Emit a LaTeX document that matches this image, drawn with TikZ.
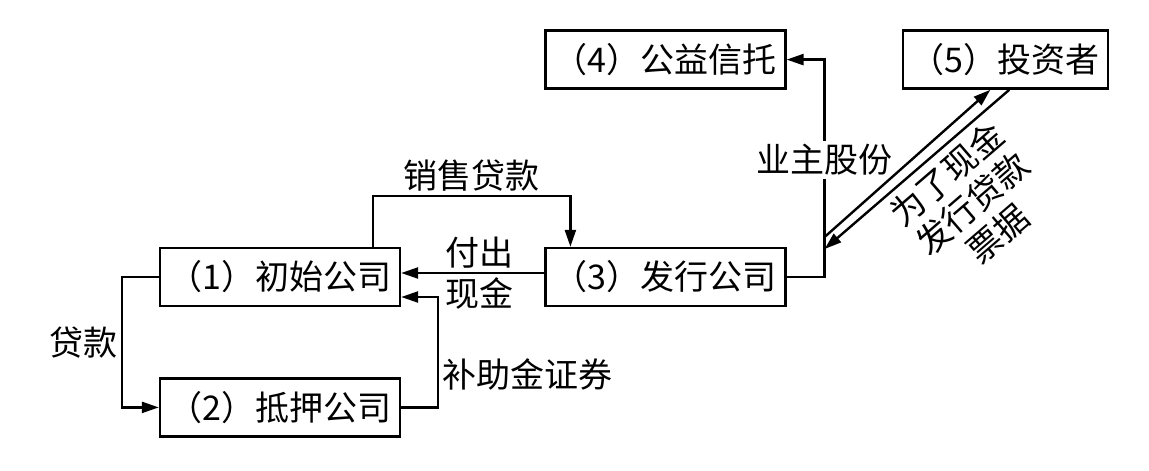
\documentclass[tikz,border=0pt]{standalone}
\usepackage{fontspec}
\newfontfamily\cjk{Noto Sans CJK SC}
\usepackage{tikz}
\usetikzlibrary{arrows.meta}
\usetikzlibrary{positioning}

\begin{document}
\begin{tikzpicture}[-{Triangle[length=17pt,width=11pt]}, node distance=70pt, line width=2.4pt, font=\cjk\fontsize{34}{37}\selectfont]
    \tikzstyle{box}=[draw, rectangle, minimum width=240pt, minimum height=58pt, inner sep=2pt]
    \useasboundingbox (0,0) rectangle (1149pt,-471pt);

    \node[box] (initial) at (280pt,-277pt) {（1）初始公司};
    \node[box] (mortgage) [below=70pt of initial] {（2）抵押公司};
    \node[box] (issuer) [right=143pt of initial] {（3）发行公司};
    \node[box] (trust) [above=157pt of issuer] {（4）公益信托};
    \node[box, minimum width=205pt] (investor) [right=115pt of trust] {（5）投资者};

    \draw (initial.west) -- ++(-37pt,0) |- (mortgage.west) node[pos=0.25, left] {贷款};
    \draw (mortgage.east) -- ++(37pt,0) |- ([yshift=-20pt]initial.east) node[pos=0.15, right] {补助金证券};
    \draw ([xshift=93pt]initial.north) -- ++(0,51pt) -| ([xshift=-95pt]issuer.north) node[pos=0.25, above] {销售贷款};
    \draw ([yshift=4pt]issuer.west) -- ([yshift=4pt]initial.east) node[pos=0.45, above] {付出} node[pos=0.45, below] {现金};
    \draw (issuer.east) -- ++(38pt,0) coordinate (corner) |- (trust.east) node[pos=0.27, fill=white] {业主股份};

    \draw ([yshift=40pt]corner) -- ([xshift=-15pt]investor.south);
    \draw ([xshift=4pt]investor.south) -- ([yshift=28pt]corner) node[pos=0.42, sloped, below, align=center, inner sep=6pt, font=\cjk\fontsize{34}{39}\selectfont] {为了现金\\发行贷款\\票据};

  \end{tikzpicture}
\end{document}
